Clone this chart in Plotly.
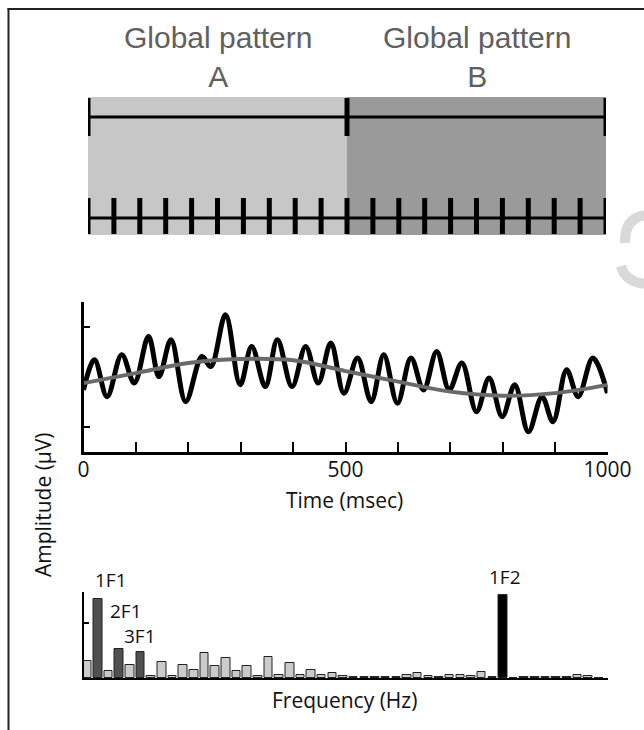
import plotly.graph_objects as go

# ---------------- data ----------------
pattern_bounds = [0, 500, 1000]              # ms, global pattern A | B
pattern_names = ["Global pattern", "Global pattern"]
pattern_letters = ["A", "B"]
local_cycle_ms = [0, 50, 100, 150, 200, 250, 300, 350, 400, 450, 500,
                  550, 600, 650, 700, 750, 800, 850, 900, 950, 1000]

time_black = [0, 21, 45, 73, 97, 124, 144, 167, 195, 226, 243, 271, 299, 321, 347,
              370, 398, 424, 448, 472, 497, 523, 549, 573, 599, 625, 649, 674, 698,
              722, 750, 774, 799, 823, 849, 875, 896, 922, 944, 972, 1000]
amp_black = [-0.52, 0.68, -0.79, 0.88, -0.25, 1.61, 0.01, 1.48, -0.99, 0.81, 0.41,
             2.48, -0.32, 1.21, -0.39, 1.48, -0.39, 1.21, -0.25, 1.35, -0.65, 0.75,
             -0.99, 0.88, -1.05, 0.75, -0.52, 1.01, -0.52, 0.55, -1.39, -0.05, -1.59,
             -0.32, -2.19, -0.79, -1.79, 0.28, -0.79, 0.75, -0.65]

time_gray = [0, 100, 200, 300, 400, 500, 600, 700, 800, 900, 1000]
amp_gray = [-0.25, 0.15, 0.55, 0.71, 0.66, 0.23, -0.19, -0.59, -0.75, -0.65, -0.32]

time_tick_labels = [0, 500, 1000]

freq_bins = list(range(49))
spectrum_amp = [0.31, 1.44, 0.12, 0.53, 0.23, 0.47, 0.03, 0.29, 0.03, 0.23,
                0.15, 0.46, 0.21, 0.36, 0.12, 0.21, 0.03, 0.39, 0.06, 0.28,
                0.06, 0.15, 0.06, 0.09, 0.03, 0.02, 0.02, 0.02, 0.02, 0.02,
                0.06, 0.09, 0.03, 0.02, 0.06, 0.06, 0.03, 0.11, 0.02, 1.51,
                0.0, 0.02, 0.02, 0.02, 0.02, 0.02, 0.06, 0.03, 0.0]
harmonic_labels = ["1F1", "2F1", "3F1", "1F2"]
harmonic_bins = [1, 3, 5, 39]
harmonic_colors = ["#505050", "#505050", "#505050", "#000000"]

# ---------------- layout helpers ----------------
W, H = 644, 730
def xp(px):
    return px / W
def yp(py):
    return 1 - py / H

FONT = "Open Sans"
LBL = 21
fig = go.Figure()

# ---------- top panel: pattern blocks ----------
pad = 9
fills = ["#c7c7c7", "#9a9a9a"]
for i in range(len(pattern_bounds) - 1):
    x0 = pattern_bounds[i] - (pad if i == 0 else 0)
    x1 = pattern_bounds[i + 1] + (pad if i == len(pattern_bounds) - 2 else 0)
    fig.add_shape(type="rect", xref="x", yref="y", x0=x0, x1=x1, y0=0, y1=138,
                  fillcolor=fills[i], line_width=0, layer="below")

fig.add_trace(go.Scatter(x=[pattern_bounds[0], pattern_bounds[-1]], y=[118, 118],
                         mode="lines", line=dict(color="black", width=3),
                         xaxis="x", yaxis="y", hoverinfo="skip"))
cx, cy = [], []
for b in pattern_bounds:
    cx += [b, b, None]
    cy += [99, 137, None]
fig.add_trace(go.Scatter(x=cx, y=cy, mode="lines", line=dict(color="black", width=5),
                         xaxis="x", yaxis="y", hoverinfo="skip"))
fig.add_trace(go.Scatter(x=[local_cycle_ms[0], local_cycle_ms[-1]], y=[17, 17],
                         mode="lines", line=dict(color="black", width=3),
                         xaxis="x", yaxis="y", hoverinfo="skip"))
tx, ty = [], []
for t in local_cycle_ms:
    tx += [t, t, None]
    ty += [1, 37, None]
fig.add_trace(go.Scatter(x=tx, y=ty, mode="lines", line=dict(color="black", width=5),
                         xaxis="x", yaxis="y", hoverinfo="skip"))

# ---------- middle panel: waveform ----------
fig.add_trace(go.Scatter(x=time_black, y=amp_black, mode="lines",
                         line=dict(color="black", width=5, shape="spline", smoothing=1.0),
                         xaxis="x2", yaxis="y2", hoverinfo="skip"))
fig.add_trace(go.Scatter(x=time_gray, y=amp_gray, mode="lines",
                         line=dict(color="#6a6a6a", width=4, shape="spline", smoothing=1.0),
                         xaxis="x2", yaxis="y2", hoverinfo="skip"))

# ---------- bottom panel: spectrum ----------
colors = ["#cbcbcb"] * len(freq_bins)
for b, c in zip(harmonic_bins, harmonic_colors):
    colors[b] = c
fig.add_trace(go.Bar(x=freq_bins, y=spectrum_amp, width=0.8,
                     marker=dict(color=colors, line=dict(color="#222222", width=1)),
                     xaxis="x3", yaxis="y3", hoverinfo="skip"))

label_offsets = [(13, 580), (7, 610.5), (-1, 636), (2, 577)]
for lab, b, (dx, py) in zip(harmonic_labels, harmonic_bins, label_offsets):
    fig.add_annotation(text=lab, xref="x3", x=b, xshift=dx, yref="paper", y=yp(py),
                       showarrow=False, xanchor="center", yanchor="middle",
                       font=dict(family=FONT, size=19, color="#111111"))

# ---------- text ----------
seg_centers = [(pattern_bounds[i] + pattern_bounds[i + 1]) / 2 for i in range(len(pattern_bounds) - 1)]
for c, name, let in zip(seg_centers, pattern_names, pattern_letters):
    fig.add_annotation(text=name + "<br>" + let, xref="x", x=c, yref="paper", y=yp(57),
                       showarrow=False, xanchor="center", yanchor="middle", align="center",
                       font=dict(family="Liberation Sans", size=30, color="#606060"))

fig.add_annotation(text="Time (msec)", xref="paper", x=xp(344), yref="paper", y=yp(500),
                   xanchor="center", yanchor="middle",
                   showarrow=False, font=dict(family=FONT, size=LBL, color="#111111"))
fig.add_annotation(text="Frequency (Hz)", xref="paper", x=xp(344), yref="paper", y=yp(700),
                   xanchor="center", yanchor="middle",
                   showarrow=False, font=dict(family=FONT, size=LBL, color="#111111"))
fig.add_annotation(text="Amplitude (μV)", xref="paper", x=xp(43), yref="paper", y=yp(505),
                   xanchor="center", yanchor="middle",
                   showarrow=False, textangle=-90,
                   font=dict(family=FONT, size=LBL, color="#111111"))

# faint watermark fragment at the right edge (drawn as strokes)
def P(x, y):
    return f"{xp(x):.5f},{yp(y):.5f}"
wm_path = (f"M {P(646, 215)} Q {P(624, 218)} {P(625, 243)} "
           f"M {P(621, 266)} Q {P(625, 282)} {P(646, 284)}")
fig.add_shape(type="path", xref="paper", yref="paper", path=wm_path,
              line=dict(color="#d9d9d9", width=10), layer="below")

# ---------- frame ----------
fig.add_shape(type="line", xref="paper", yref="paper", x0=xp(8.5), x1=xp(8.5),
              y0=yp(8), y1=-0.01, line=dict(color="#222222", width=2))
fig.add_shape(type="line", xref="paper", yref="paper", x0=xp(7.5), x1=1.01,
              y0=yp(9), y1=yp(9), line=dict(color="#222222", width=2))

axis_off = dict(visible=False, showgrid=False, zeroline=False, fixedrange=True, automargin=False)
fig.update_layout(
    template="none",
    width=W, height=H, margin=dict(l=0, r=0, t=0, b=0, pad=0, autoexpand=False), autosize=False,
    paper_bgcolor="white", plot_bgcolor="rgba(0,0,0,0)", showlegend=False,
    xaxis=dict(domain=[xp(88), xp(606)], range=[0, 1000], anchor="y", **axis_off),
    yaxis=dict(domain=[yp(235), yp(97)], range=[0, 138], anchor="x", **axis_off),
    xaxis2=dict(domain=[xp(83.5), xp(607.5)], range=[0, 1000], anchor="y2", automargin=False,
                showline=True, linecolor="black", linewidth=3, mirror=False,
                ticks="inside", ticklen=10, tickwidth=2, tickcolor="black",
                tickvals=time_tick_labels, ticktext=[str(v) for v in time_tick_labels],
                ticklabelstandoff=-3,
                minor=dict(dtick=100, ticks="inside", ticklen=10, tickwidth=2, tickcolor="black"),
                tickfont=dict(family=FONT, size=LBL, color="#111111"),
                showgrid=False, zeroline=False),
    yaxis2=dict(domain=[yp(452), yp(301.7)], range=[-3, 3], anchor="x2", automargin=False,
                showline=True, linecolor="black", linewidth=3,
                ticks="inside", ticklen=6, tickwidth=2, tickcolor="black",
                tickvals=[-2, 2], showticklabels=False, showgrid=False, zeroline=False),
    xaxis3=dict(domain=[xp(83.5), xp(607.5)], range=[-0.35, 48.81], anchor="y3", automargin=False,
                showline=True, linecolor="black", linewidth=2, ticks="",
                showticklabels=False, showgrid=False, zeroline=False),
    yaxis3=dict(domain=[yp(678), yp(592)], range=[0, 1.5636], anchor="x3", automargin=False,
                showline=True, linecolor="black", linewidth=2,
                ticks="inside", ticklen=5, tickwidth=2, tickcolor="black",
                tickvals=[1], showticklabels=False, showgrid=False, zeroline=False),
    bargap=0,
)

fig.write_html(
    "out.html",
    config={"responsive": False, "displayModeBar": False},
    post_script="document.body.style.margin='0';document.body.style.overflow='hidden';",
)
